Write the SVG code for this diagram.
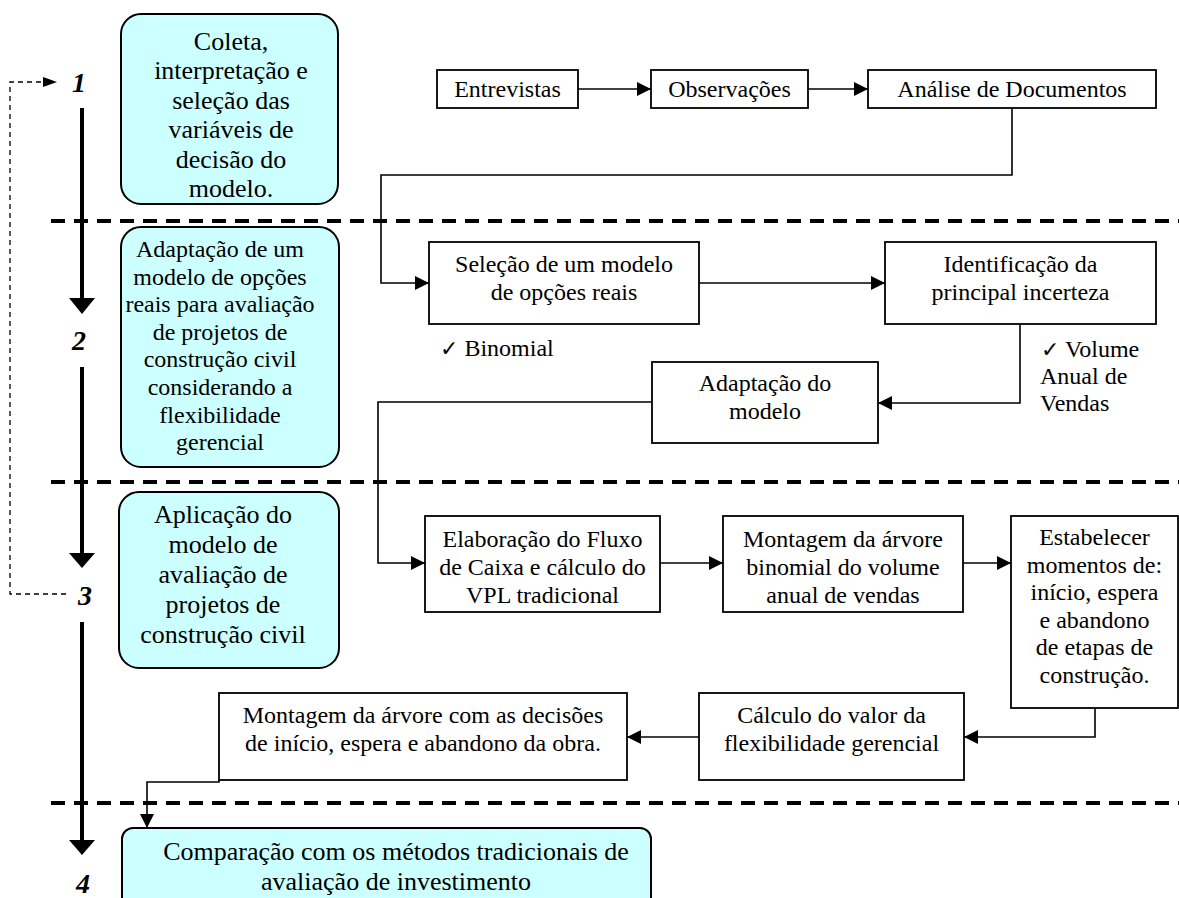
<svg xmlns="http://www.w3.org/2000/svg" width="1179" height="898" viewBox="0 0 1179 898">
<defs>
<style>
.phase{fill:#ccffff;stroke:#000;stroke-width:2}
.box{fill:#fff;stroke:#000;stroke-width:1.8}
.t26{font-family:"Liberation Serif","Times New Roman",serif;font-size:26px;fill:#000;text-anchor:middle}
.t24{font-family:"Liberation Serif","Times New Roman",serif;font-size:24px;fill:#000;text-anchor:middle}
.tl{font-family:"Liberation Serif","Times New Roman",serif;font-size:24px;fill:#000}
.num{font-family:"Liberation Serif","Times New Roman",serif;font-size:28px;font-weight:bold;font-style:italic;fill:#000;text-anchor:middle}
.sep{stroke:#000;stroke-width:4;stroke-dasharray:14 9;fill:none}
.conn{stroke:#000;stroke-width:1.6;fill:none}
.chk{font-family:"DejaVu Sans",sans-serif;font-size:22px}
</style>
<marker id="ah" markerUnits="userSpaceOnUse" markerWidth="15" markerHeight="14" refX="14" refY="7" orient="auto">
<path d="M0,0 L14,7 L0,14 z" fill="#000"/>
</marker>
</defs>
<rect width="1179" height="898" fill="#fff"/>

<g id="separators">
<line class="sep" x1="51" y1="221" x2="1179" y2="221"/>
<line class="sep" x1="51" y1="482" x2="1179" y2="482"/>
<line class="sep" x1="51" y1="803" x2="1179" y2="803"/>
</g>

<g id="phase-flow">
<line x1="82" y1="108" x2="82" y2="300" stroke="#000" stroke-width="4"/>
<polygon points="69,298 95,298 82,314" fill="#000"/>
<line x1="82" y1="367" x2="82" y2="555" stroke="#000" stroke-width="4"/>
<polygon points="69,553 95,553 82,568" fill="#000"/>
<line x1="82" y1="622" x2="82" y2="842" stroke="#000" stroke-width="4"/>
<polygon points="69,840 95,840 82,855" fill="#000"/>
<path d="M66,594 H10 V82 H44" fill="none" stroke="#000" stroke-width="1.3" stroke-dasharray="5 4"/>
<polygon points="43,77 57,82 43,87" fill="#000"/>
<text class="num" x="79" y="92">1</text>
<text class="num" x="79" y="350">2</text>
<text class="num" x="85" y="605">3</text>
<text class="num" x="83" y="893">4</text>
</g>

<g id="phase1">
<rect class="phase" x="121" y="14" width="217" height="190" rx="20"/>
<text class="t26" x="231" y="50">Coleta,</text>
<text class="t26" x="231" y="79.4">interpretação e</text>
<text class="t26" x="231" y="108.8">seleção das</text>
<text class="t26" x="231" y="138.2">variáveis de</text>
<text class="t26" x="231" y="167.6">decisão do</text>
<text class="t26" x="231" y="197">modelo.</text>
</g>

<g id="phase2">
<rect class="phase" x="121" y="227" width="218" height="240" rx="20"/>
<text class="t24" x="220" y="257">Adaptação de um</text>
<text class="t24" x="220" y="284.6">modelo de opções</text>
<text class="t24" x="220" y="312.2">reais para avaliação</text>
<text class="t24" x="220" y="339.8">de projetos de</text>
<text class="t24" x="220" y="367.4">construção civil</text>
<text class="t24" x="220" y="395">considerando a</text>
<text class="t24" x="220" y="422.6">flexibilidade</text>
<text class="t24" x="220" y="450.2">gerencial</text>
</g>

<g id="phase3">
<rect class="phase" x="119" y="492" width="220" height="176" rx="20"/>
<text class="t26" x="223" y="523">Aplicação do</text>
<text class="t26" x="223" y="553">modelo de</text>
<text class="t26" x="223" y="583">avaliação de</text>
<text class="t26" x="223" y="613">projetos de</text>
<text class="t26" x="223" y="643">construção civil</text>
</g>

<g id="phase4">
<rect class="phase" x="122" y="828" width="529" height="90" rx="11"/>
<text class="t26" x="396" y="860">Comparação com os métodos tradicionais de</text>
<text class="t26" x="396" y="890">avaliação de investimento</text>
</g>

<g id="entrevistas">
<rect class="box" x="437" y="70" width="141" height="38"/>
<text class="t24" x="507.5" y="97">Entrevistas</text>
</g>
<g id="observacoes">
<rect class="box" x="651" y="70" width="157" height="38"/>
<text class="t24" x="729.5" y="97">Observações</text>
</g>
<g id="analise">
<rect class="box" x="868" y="70" width="288" height="38"/>
<text class="t24" x="1012" y="97">Análise de Documentos</text>
</g>

<g id="selecao">
<rect class="box" x="429" y="242" width="270" height="82"/>
<text class="t24" x="564" y="272">Seleção de um modelo</text>
<text class="t24" x="564" y="300">de opções reais</text>
</g>
<g id="binomial-note">
<text class="tl" x="440" y="356"><tspan class="chk">✓</tspan> Binomial</text>
</g>

<g id="identificacao">
<rect class="box" x="885" y="242" width="271" height="82"/>
<text class="t24" x="1020.5" y="272">Identificação da</text>
<text class="t24" x="1020.5" y="300">principal incerteza</text>
</g>
<g id="volume-note">
<text class="tl" x="1041" y="357"><tspan class="chk">✓</tspan> Volume</text>
<text class="tl" x="1040" y="384">Anual de</text>
<text class="tl" x="1040" y="411">Vendas</text>
</g>

<g id="adaptacao">
<rect class="box" x="652" y="362" width="226" height="81"/>
<text class="t24" x="765" y="391">Adaptação do</text>
<text class="t24" x="765" y="419">modelo</text>
</g>

<g id="elaboracao">
<rect class="box" x="425" y="516" width="235" height="96"/>
<text class="t24" x="542.5" y="547">Elaboração do Fluxo</text>
<text class="t24" x="542.5" y="575">de Caixa e cálculo do</text>
<text class="t24" x="542.5" y="603">VPL tradicional</text>
</g>

<g id="montagem-binomial">
<rect class="box" x="723" y="516" width="240" height="96"/>
<text class="t24" x="843" y="547">Montagem da árvore</text>
<text class="t24" x="843" y="575">binomial do volume</text>
<text class="t24" x="843" y="603">anual de vendas</text>
</g>

<g id="estabelecer">
<rect class="box" x="1011" y="516" width="167" height="192"/>
<text class="t24" x="1094.5" y="545">Estabelecer</text>
<text class="t24" x="1094.5" y="572.6">momentos de:</text>
<text class="t24" x="1094.5" y="600.2">início, espera</text>
<text class="t24" x="1094.5" y="627.8">e abandono</text>
<text class="t24" x="1094.5" y="655.4">de etapas de</text>
<text class="t24" x="1094.5" y="683">construção.</text>
</g>

<g id="calculo">
<rect class="box" x="699" y="693" width="265" height="87"/>
<text class="t24" x="831.5" y="723">Cálculo do valor da</text>
<text class="t24" x="831.5" y="751">flexibilidade gerencial</text>
</g>

<g id="montagem-decisoes">
<rect class="box" x="219" y="693" width="408" height="87"/>
<text class="t24" x="423" y="723">Montagem da árvore com as decisões</text>
<text class="t24" x="423" y="751">de início, espera e abandono da obra.</text>
</g>

<g id="connectors">
<path class="conn" d="M578,89 H651" marker-end="url(#ah)"/>
<path class="conn" d="M808,89 H868" marker-end="url(#ah)"/>
<path class="conn" d="M1012,108 V175 H381 V283 H429" marker-end="url(#ah)"/>
<path class="conn" d="M699,283 H885" marker-end="url(#ah)"/>
<path class="conn" d="M1020,324 V403 H878" marker-end="url(#ah)"/>
<path class="conn" d="M652,402 H378 V563 H425" marker-end="url(#ah)"/>
<path class="conn" d="M660,563 H723" marker-end="url(#ah)"/>
<path class="conn" d="M963,563 H1011" marker-end="url(#ah)"/>
<path class="conn" d="M1095,708 V737 H964" marker-end="url(#ah)"/>
<path class="conn" d="M699,737 H627" marker-end="url(#ah)"/>
<path class="conn" d="M219,780 V782 H147 V828" marker-end="url(#ah)"/>
</g>
</svg>
